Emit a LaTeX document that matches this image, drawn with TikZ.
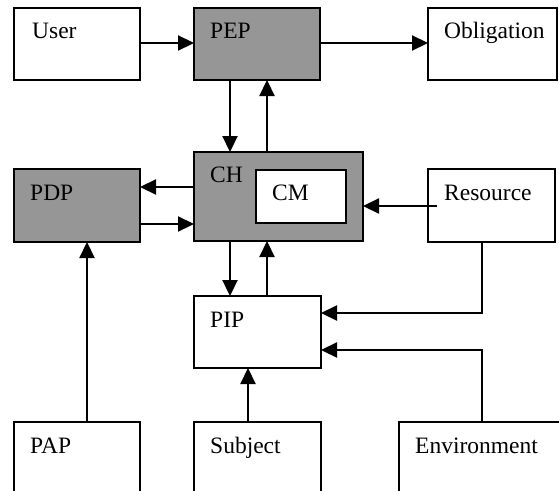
\documentclass[tikz,border=0pt]{standalone}
\usepackage{fontspec}
\setmainfont{Liberation Serif}
\usetikzlibrary{arrows.meta,calc}
\definecolor{boxgray}{RGB}{150,150,150}
\begin{document}
\begin{tikzpicture}[x=1pt,y=-1pt,
  box/.style={draw,line width=2.2pt,rectangle,inner sep=0pt,outer sep=0pt,anchor=north west,fill=white},
  gbox/.style={box,fill=boxgray},
  lbl/.style={anchor=base west,inner sep=0pt,font=\fontsize{23.5}{27}\selectfont},
  arr/.style={line width=2.2pt,-{Triangle[length=16pt,width=15pt]}}]
\useasboundingbox (0,0) rectangle (559,490);
\clip (0,0) rectangle (559,490);
% boxes
\node[box,minimum width=126pt,minimum height=72pt] (User) at (14,8) {};
\node[gbox,minimum width=126pt,minimum height=72pt] (PEP) at (194,8) {};
\node[box,minimum width=129pt,minimum height=72pt] (Obl) at (428,8) {};
\node[gbox,minimum width=126pt,minimum height=73pt] (PDP) at (14,169) {};
\node[gbox,minimum width=169pt,minimum height=89pt] (CH) at (194,152) {};
\node[box,minimum width=90pt,minimum height=53pt] (CM) at (256,170) {};
\node[box,minimum width=127pt,minimum height=73pt] (Res) at (428,169) {};
\node[box,minimum width=127pt,minimum height=72pt] (PIP) at (194,296) {};
\node[box,minimum width=126pt,minimum height=90pt] (PAP) at (14,422) {};
\node[box,minimum width=127pt,minimum height=90pt] (Sub) at (194,422) {};
\node[box,minimum width=180pt,minimum height=90pt] (Env) at (399,422) {};
% labels
\node[lbl] (tUser) at ($(User.north west)+(18,30)$) {User};
\node[lbl] (tPEP) at ($(PEP.north west)+(16,30)$) {PEP};
\node[lbl] (tObl) at ($(Obl.north west)+(16,30)$) {Obligation};
\node[lbl] (tPDP) at ($(PDP.north west)+(16,31)$) {PDP};
\node[lbl] (tCH) at ($(CH.north west)+(16,30)$) {CH};
\node[lbl] (tCM) at ($(CM.north west)+(16,30)$) {CM};
\node[lbl] (tRes) at ($(Res.north west)+(16,31)$) {Resource};
\node[lbl] (tPIP) at ($(PIP.north west)+(16,31)$) {PIP};
\node[lbl] (tPAP) at ($(PAP.north west)+(16,31)$) {PAP};
\node[lbl] (tSub) at ($(Sub.north west)+(16,31)$) {Subject};
\node[lbl] (tEnv) at ($(Env.north west)+(16,31)$) {Environment};
% helper coordinates
\coordinate (xa) at (230,0);
\coordinate (xb) at (267,0);
\coordinate (y0) at (0,43);
\coordinate (ya) at (0,187);
\coordinate (yb) at (0,224);
\coordinate (xr) at (482,0);
\coordinate (yr) at (0,313);
\coordinate (ye) at (0,350);
\coordinate (xp) at (87,0);
\coordinate (xs) at (248,0);
\coordinate (rs) at (437,206);
% connectors
\draw[arr] (User.east |- y0) -- (PEP.west |- y0);
\draw[arr] (PEP.east |- y0) -- (Obl.west |- y0);
\draw[arr] (PEP.south -| xa) -- (CH.north -| xa);
\draw[arr] (CH.north -| xb) -- (PEP.south -| xb);
\draw[arr] (CH.south -| xa) -- (PIP.north -| xa);
\draw[arr] (PIP.north -| xb) -- (CH.south -| xb);
\draw[arr] (CH.west |- ya) -- (PDP.east |- ya);
\draw[arr] (PDP.east |- yb) -- (CH.west |- yb);
\draw[arr] (rs) -- (CH.east |- rs);
\draw[arr] (Res.south -| xr) -- (xr |- yr) -- (PIP.east |- yr);
\draw[arr] (Env.north -| xr) -- (xr |- ye) -- (PIP.east |- ye);
\draw[arr] (PAP.north -| xp) -- (PDP.south -| xp);
\draw[arr] (Sub.north -| xs) -- (PIP.south -| xs);
\end{tikzpicture}
\end{document}
